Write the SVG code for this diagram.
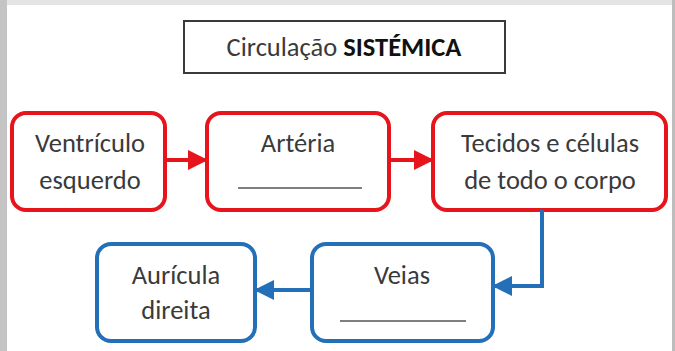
<svg xmlns="http://www.w3.org/2000/svg" width="675" height="351" viewBox="0 0 675 351">
<style>
  .t { font-family: Calibri, Carlito, "Open Sans", "Liberation Sans", sans-serif; font-size: 26.5px; fill: #3a3a3a; text-anchor: middle; }
  .red { fill: #ffffff; stroke: #e8141b; stroke-width: 4; }
  .blue { fill: #ffffff; stroke: #2470b8; stroke-width: 4; }
  .ul { stroke: #555555; stroke-width: 1.5; }
</style>
<defs>
  <marker id="ar" markerWidth="5" markerHeight="5" refX="4.5" refY="2.5" orient="auto" markerUnits="strokeWidth">
    <path d="M0,0 L5,2.5 L0,5 z" fill="#e8141b"/>
  </marker>
  <marker id="ab" markerWidth="5" markerHeight="5" refX="4.5" refY="2.5" orient="auto" markerUnits="strokeWidth">
    <path d="M0,0 L5,2.5 L0,5 z" fill="#2470b8"/>
  </marker>
</defs>
<rect x="0" y="0" width="675" height="351" fill="#ffffff"/>
<rect x="0" y="0" width="675" height="5" fill="#e4e4e4"/>
<rect x="0" y="0" width="7" height="351" fill="#c4c4c4"/>
<rect x="672" y="0" width="3" height="351" fill="#bdbdbd"/>

<g id="title">
  <rect x="184" y="21" width="321" height="52" fill="#ffffff" stroke="#3a3a3a" stroke-width="2"/>
  <text class="t" x="344" y="56"><tspan>Circulação </tspan><tspan font-weight="bold" fill="#111">SISTÉMICA</tspan></text>
</g>

<g id="ventriculo">
  <rect class="red" x="12" y="113" width="153" height="97" rx="14"/>
  <text class="t" x="90" y="152">Ventrículo</text>
  <text class="t" x="90" y="189">esquerdo</text>
</g>
<g id="arteria">
  <rect class="red" x="207" y="113" width="182" height="97" rx="14"/>
  <text class="t" x="298" y="152">Artéria</text>
  <line class="ul" x1="238" y1="188" x2="362" y2="188"/>
</g>
<g id="tecidos">
  <rect class="red" x="433" y="113" width="233" height="97" rx="14"/>
  <text class="t" x="550" y="152">Tecidos e células</text>
  <text class="t" x="550" y="189">de todo o corpo</text>
</g>
<g id="auricula">
  <rect class="blue" x="97" y="244" width="158" height="97" rx="14"/>
  <text class="t" x="176" y="284">Aurícula</text>
  <text class="t" x="176" y="319">direita</text>
</g>
<g id="veias">
  <rect class="blue" x="312" y="244" width="181" height="97" rx="14"/>
  <text class="t" x="402" y="284">Veias</text>
  <line class="ul" x1="340" y1="321" x2="466" y2="321"/>
</g>

<g id="connectors" fill="none" stroke-width="4">
  <line x1="165" y1="160" x2="206" y2="160" stroke="#e8141b" marker-end="url(#ar)"/>
  <line x1="389" y1="160" x2="432" y2="160" stroke="#e8141b" marker-end="url(#ar)"/>
  <polyline points="542,210 542,286 494,286" stroke="#2470b8" marker-end="url(#ab)"/>
  <line x1="312" y1="290" x2="256" y2="290" stroke="#2470b8" marker-end="url(#ab)"/>
</g>
</svg>
